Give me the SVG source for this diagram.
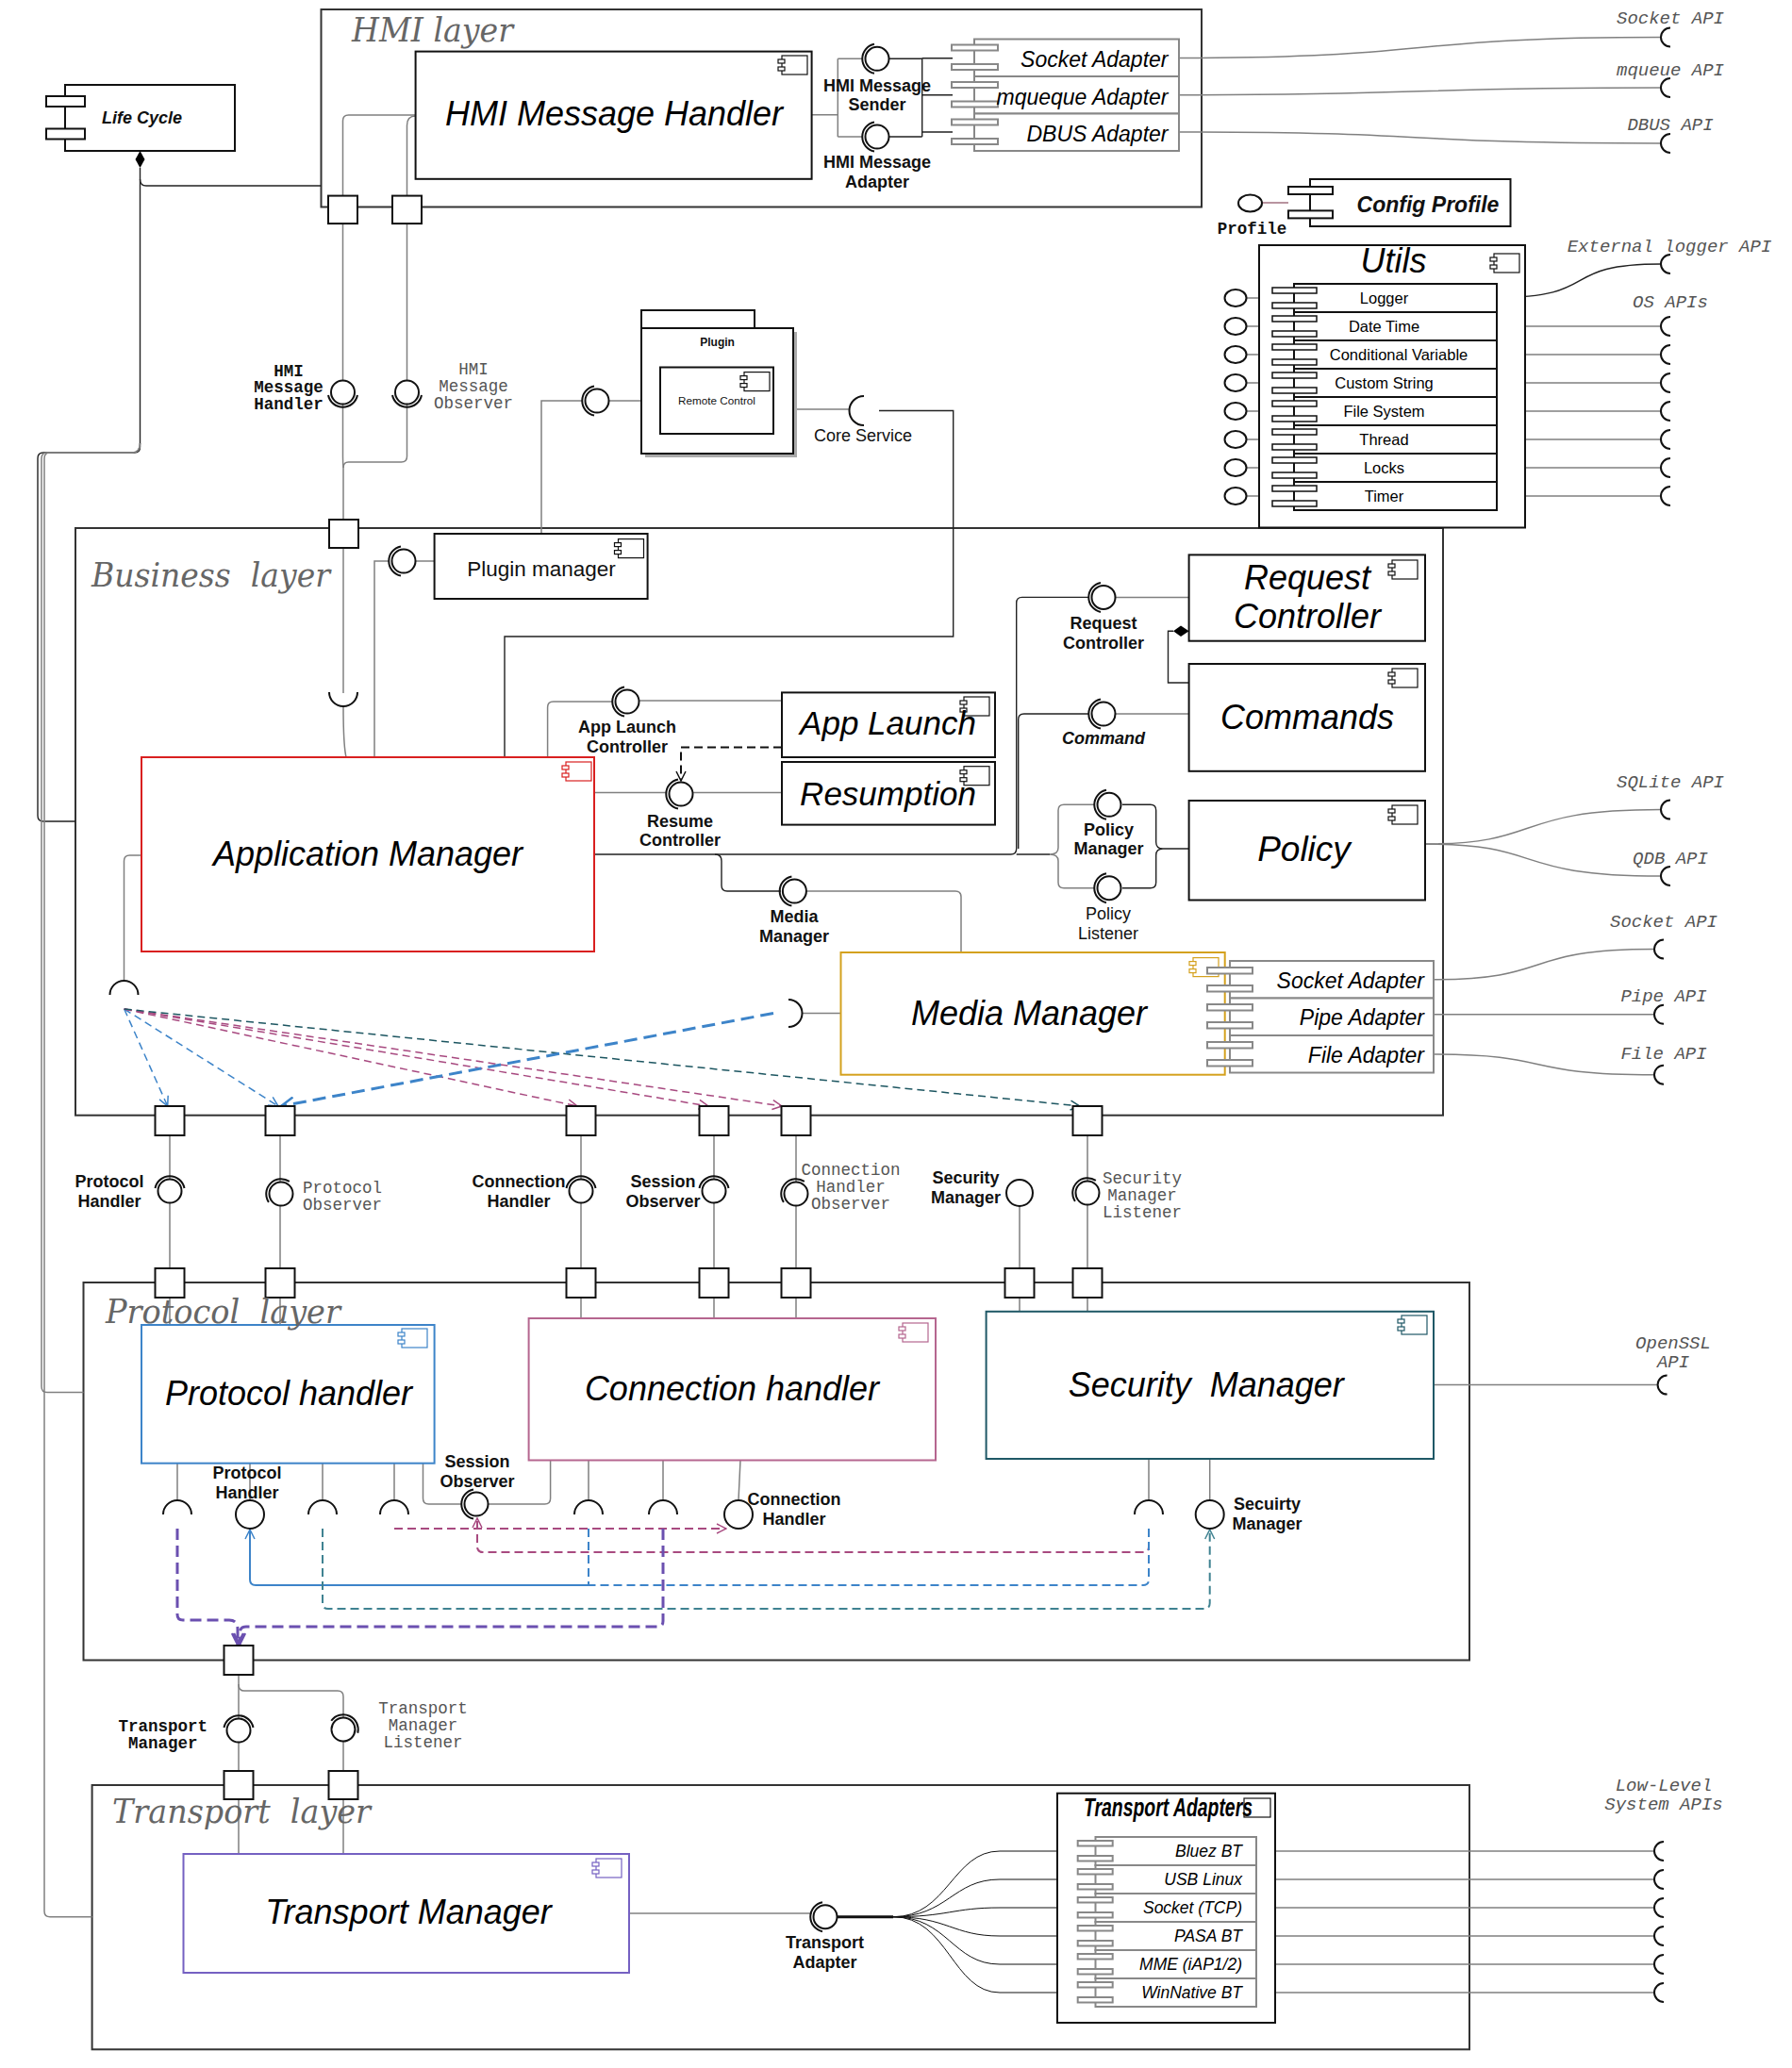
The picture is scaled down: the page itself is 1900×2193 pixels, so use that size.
<svg xmlns="http://www.w3.org/2000/svg" xmlns:xlink="http://www.w3.org/1999/xlink" width="1900" height="2193" viewBox="0 0 1900 2193">
<style>
  .box{fill:#fff;stroke:#111;stroke-width:2}
  .layer{fill:none;stroke:#333;stroke-width:2}
  .port{fill:#fff;stroke:#111;stroke-width:2}
  .tab{fill:#fff;stroke:#111;stroke-width:1.5}
  .gtab{fill:#fff;stroke:#888;stroke-width:2}
  .grow{fill:#fff;stroke:#888;stroke-width:2}
  .c{fill:none;stroke:#808080;stroke-width:1.5}
  .k{fill:none;stroke:#222;stroke-width:1.4}
  .ball{fill:#fff;stroke:#111;stroke-width:2}
  .arc{fill:none;stroke:#111;stroke-width:2}
  .sk{fill:none;stroke:#111;stroke-width:2}
  .ico{fill:#fff;stroke-width:1.2}
  .big{font-family:"Liberation Sans",Arial,sans-serif;font-style:italic;font-size:36px;text-anchor:middle;fill:#000}
  .lay{font-family:"DejaVu Serif","Liberation Serif",serif;font-style:italic;font-size:36px;fill:#666}
  .lb{font-family:"Liberation Sans",Arial,sans-serif;font-weight:bold;font-size:18px;text-anchor:middle;fill:#111}
  .lr{font-family:"Liberation Sans",Arial,sans-serif;font-size:18px;text-anchor:middle;fill:#111}
  .mb{font-family:"Liberation Mono","Courier New",monospace;font-weight:bold;font-size:17.5px;text-anchor:middle;fill:#111}
  .mg{font-family:"Liberation Mono","Courier New",monospace;font-size:17.5px;text-anchor:middle;fill:#555}
  .api{font-family:"Liberation Mono","Courier New",monospace;font-style:italic;font-size:19px;text-anchor:middle;fill:#555}
  .ad{font-family:"Liberation Sans",Arial,sans-serif;font-style:italic;font-size:23px;text-anchor:end;fill:#000}
  .ut{font-family:"Liberation Sans",Arial,sans-serif;font-size:16.5px;text-anchor:middle;fill:#000}
  .ta{font-family:"Liberation Sans",Arial,sans-serif;font-style:italic;font-size:17.5px;text-anchor:end;fill:#000}
  .dB{fill:none;stroke:#3d84c9;stroke-width:1.5;stroke-dasharray:8 5}
  .dM{fill:none;stroke:#a84a80;stroke-width:1.5;stroke-dasharray:8 5}
  .dT{fill:none;stroke:#1d5661;stroke-width:1.5;stroke-dasharray:8 5}
</style>
<defs>
  <!-- component glyph used in box corners -->
  <g id="ci">
    <rect class="ico" x="4" y="0" width="27" height="20"/>
    <rect class="ico" x="0" y="4" width="7" height="4"/>
    <rect class="ico" x="0" y="12" width="7" height="4"/>
  </g>
  <!-- provided interface with a socket arc on its left -->
  <g id="bl">
    <circle class="ball" r="12.5"/>
    <path class="arc" d="M-3,-15.5 A15.8,15.8 0 0 0 -3,15.5"/>
  </g>
  <marker id="aB" viewBox="0 0 12 12" refX="11" refY="6" markerWidth="12" markerHeight="12" markerUnits="userSpaceOnUse" orient="auto"><path d="M1,1 L11,6 L1,11" fill="none" stroke="#3d84c9" stroke-width="1.5"/></marker>
  <marker id="aBt" viewBox="0 0 16 16" refX="15" refY="8" markerWidth="16" markerHeight="16" markerUnits="userSpaceOnUse" orient="auto"><path d="M1,1 L15,8 L1,15" fill="none" stroke="#3d84c9" stroke-width="2.5"/></marker>
  <marker id="aM" viewBox="0 0 12 12" refX="11" refY="6" markerWidth="12" markerHeight="12" markerUnits="userSpaceOnUse" orient="auto"><path d="M1,1 L11,6 L1,11" fill="none" stroke="#a84a80" stroke-width="1.5"/></marker>
  <marker id="aT" viewBox="0 0 12 12" refX="11" refY="6" markerWidth="12" markerHeight="12" markerUnits="userSpaceOnUse" orient="auto"><path d="M1,1 L11,6 L1,11" fill="none" stroke="#1d5661" stroke-width="1.5"/></marker>
  <marker id="aT2" viewBox="0 0 12 12" refX="11" refY="6" markerWidth="12" markerHeight="12" markerUnits="userSpaceOnUse" orient="auto"><path d="M1,1 L11,6 L1,11" fill="none" stroke="#3f8291" stroke-width="1.5"/></marker>
  <marker id="aP" viewBox="0 0 14 14" refX="13" refY="7" markerWidth="14" markerHeight="14" markerUnits="userSpaceOnUse" orient="auto"><path d="M1,1 L13,7 L1,13" fill="none" stroke="#6b50b0" stroke-width="2.5"/></marker>
  <marker id="aK" viewBox="0 0 12 12" refX="11" refY="6" markerWidth="12" markerHeight="12" markerUnits="userSpaceOnUse" orient="auto"><path d="M1,1 L11,6 L1,11" fill="none" stroke="#111" stroke-width="1.5"/></marker>
</defs>

<rect width="1900" height="2193" fill="#fff"/>

<!-- layer frames -->
<g id="layers">
  <rect class="layer" x="340.5" y="10" width="933.5" height="209.5"/>
  <text class="lay" x="373" y="43.5" textLength="171" lengthAdjust="spacingAndGlyphs">HMI layer</text>
  <rect class="layer" x="80" y="560" width="1450" height="622.7"/>
  <text class="lay" x="97" y="622" textLength="253" lengthAdjust="spacingAndGlyphs">Business&#160; layer</text>
  <rect class="layer" x="88.5" y="1360" width="1469.5" height="400.5"/>
  <rect class="layer" x="97.6" y="1893" width="1460.4" height="280.3"/>
</g>

<!-- connectors -->
<g id="connectors">
  <!-- life cycle ownership -->
  <path class="k" d="M148.5,178 V474 Q148.5,480 142.5,480 H46 Q40,480 40,486 V865 Q40,871 46,871 H80"/>
  <path class="c" d="M148.5,470 Q148.5,480 140,480 H50 Q44,480 44,486 V1470.6 Q44,1476.6 50,1476.6 H88.5"/>
  <path class="c" d="M148.5,470 Q148.5,480 140,480 H53 Q47,480 47,486 V2026.7 Q47,2032.7 53,2032.7 H97.6"/>
  <path class="k" d="M148.5,190 Q148.5,197 155,197 H340.5"/>

  <!-- HMI handler to ports -->
  <path class="c" d="M440.6,122 H369.5 Q363.5,122 363.5,128 V207.6"/>
  <path class="c" d="M440.6,123 Q431.5,123 431.5,133 V207.6"/>
  <path class="c" d="M363.5,237 V484 Q363.5,490 364,496 V551"/>
  <path class="c" d="M431.5,237 V484 Q431.5,490 425.5,490 H369.5 Q364,490 364,496"/>
  <path class="c" d="M364,581 V735"/>
  <path class="c" d="M364,749 Q364,790 367,803"/>

  <!-- HMI sender / adapter -->
  <path class="c" d="M860.6,121.7 H888.3 M888.3,62.3 V145 M888.3,62.3 H914.5 M888.3,145 H914.5"/>
  <path class="k" d="M943,62.3 H977.7 V145 M943,145 H977.7 M977.7,61.7 H1010 M977.7,100.7 H1010 M977.7,140 H1010"/>

  <!-- external APIs of HMI adapters -->
  <path class="c" d="M1250,61.5 C1530,61.5 1480,39.5 1761,39.5"/>
  <path class="c" d="M1250,100.7 C1530,100.7 1480,93 1761,93"/>
  <path class="c" d="M1250,140 C1530,140 1480,152 1761,152"/>

  <!-- config profile -->
  <path fill="none" stroke="#a07080" stroke-width="1.5" d="M1338,215 H1366"/>

  <!-- utils -->
  <path class="c" d="M1321.5,316 H1349 M1321.5,346 H1349 M1321.5,376 H1349 M1321.5,406 H1349 M1321.5,436 H1349 M1321.5,466 H1349 M1321.5,496 H1349 M1321.5,526 H1349"/>
  <path class="k" d="M1587,315.5 C1700,315.5 1650,280 1761,280"/>
  <path class="c" d="M1587,346 H1761 M1587,376 H1761 M1587,406 H1761 M1587,436 H1761 M1587,466 H1761 M1587,496 H1761 M1587,526 H1761"/>

  <!-- plugin / core service -->
  <path class="c" d="M617,425 H574 V566"/>
  <path class="c" d="M645,425 H700"/>
  <path class="c" d="M820,434 H900.5"/>
  <path class="k" d="M932,435.5 H1010.7 V675 H535 V803"/>
  <path class="c" d="M413,595 H397 V803"/>
  <path class="c" d="M440,595 H460.6"/>

  <!-- application manager interfaces -->
  <path class="c" d="M650,744 H586.6 Q580.6,744 580.6,750 V803"/>
  <path class="c" d="M677,743 H829"/>
  <path class="c" d="M630,840.5 H707"/>
  <path class="c" d="M734,840.5 H829"/>
  <path fill="none" stroke="#111" stroke-width="2" stroke-dasharray="9 5" marker-end="url(#aK)" d="M829,792.5 H722 V828"/>
  <path class="k" d="M630,906 H1071.7 Q1077.7,906 1077.7,900 V639.4 Q1077.7,633.4 1083.7,633.4 H1155"/>
  <path class="k" d="M1079.7,900 V763 Q1079.7,757 1085.7,757 H1155"/>
  <path class="k" d="M1077.7,906 H1113"/>
  <path class="c" d="M1182.5,633.4 H1260.6 M1182.5,757 H1260.6"/>
  <path class="k" d="M1244,669.3 H1238.5 V724 H1260.6"/>
  <path class="c" d="M1160,853.3 H1128 Q1122,853.3 1122,859.3 V899 Q1122,906 1113,906 Q1122,906 1122,913 V935.7 Q1122,941.7 1128,941.7 H1160"/>
  <path class="k" d="M1190,853.3 H1219.7 Q1225.7,853.3 1225.7,859.3 V893 Q1225.7,900 1233,900 Q1225.7,900 1225.7,907 V935.7 Q1225.7,941.7 1219.7,941.7 H1190 M1233,900 H1260.6"/>
  <path class="k" d="M758,906 Q765,906 765,913 V939 Q765,945 771,945 H828"/>
  <path class="c" d="M855,945 H1013 Q1019,945 1019,951 V1010"/>
  <path class="c" d="M150,907 H137.5 Q131.5,907 131.5,913 V1040"/>
  <path class="c" d="M851,1074.5 H891.5"/>

  <!-- policy / media external APIs -->
  <path class="c" d="M1511,895 C1640,895 1600,858.6 1761,858.6"/>
  <path class="c" d="M1511,895 C1640,895 1600,929 1761,929"/>
  <path class="c" d="M1520,1038.7 C1650,1038.7 1610,1006.5 1754,1006.5"/>
  <path class="c" d="M1520,1075.8 H1754"/>
  <path class="c" d="M1520,1118 C1650,1118 1610,1139.7 1754,1139.7"/>

  <!-- fan of dependencies from application manager -->
  <path class="dB" marker-end="url(#aB)" d="M131.7,1070 L177.7,1173"/>
  <path class="dB" marker-end="url(#aB)" d="M131.7,1070 L295,1173"/>
  <path class="dM" marker-end="url(#aM)" d="M131.7,1070 L612,1173"/>
  <path class="dM" marker-end="url(#aM)" d="M131.7,1070 L751,1173"/>
  <path class="dM" marker-end="url(#aM)" d="M131.7,1070 L829,1173"/>
  <path class="dT" marker-end="url(#aT)" d="M131.7,1070 L1145,1173"/>
  <path fill="none" stroke="#3d84c9" stroke-width="3" stroke-dasharray="14 7" marker-end="url(#aBt)" d="M820,1074.5 L298,1173"/>

  <!-- business to protocol layer -->
  <path class="c" d="M180,1204 V1345 M297,1204 V1345 M616,1204 V1345 M757,1204 V1345 M844,1204 V1345 M1081,1279 V1345 M1153,1204 V1345"/>
  <path class="c" d="M180,1376 V1405 M297,1376 V1405 M616,1376 V1398 M757,1376 V1398 M844,1376 V1398 M1081,1376 V1390.8 M1153,1376 V1390.8"/>

  <!-- protocol layer internals -->
  <path class="c" d="M188,1552 V1591 M265,1552 V1591 M342,1552 V1591 M418,1552 V1591 M624,1548.5 V1591 M703,1548.5 V1591 M785,1548.5 L783,1591 M1218,1547 V1591 M1282.7,1547 V1591"/>
  <path class="c" d="M448.5,1552 V1589 Q448.5,1595 454.5,1595 H489"/>
  <path class="c" d="M518,1595 H577.6 Q583.6,1595 583.6,1589 V1548.5"/>
  <path fill="none" stroke="#a84a80" stroke-width="2" stroke-dasharray="9 5" marker-end="url(#aM)" d="M418,1621 H770"/>
  <path fill="none" stroke="#a84a80" stroke-width="2" stroke-dasharray="9 5" marker-end="url(#aM)" d="M1218,1621 V1640 Q1218,1646 1212,1646 H512 Q506,1646 506,1640 V1610"/>
  <path fill="none" stroke="#3d84c9" stroke-width="2" stroke-dasharray="9 5" d="M1218,1621 V1675 Q1218,1681 1212,1681 H622 M624,1621 V1681"/>
  <path fill="none" stroke="#3d84c9" stroke-width="2" marker-end="url(#aB)" d="M624,1681 H271 Q265,1681 265,1675 V1622"/>
  <path fill="none" stroke="#3f8291" stroke-width="2" stroke-dasharray="9 5" marker-end="url(#aT2)" d="M342,1621 V1700 Q342,1706 348,1706 H1276.7 Q1282.7,1706 1282.7,1700 V1622"/>
  <path fill="none" stroke="#6b50b0" stroke-width="3" stroke-dasharray="12 6" marker-end="url(#aP)" d="M188,1621 V1712 Q188,1718 194,1718 H243 Q252,1718 252,1728 V1744"/>
  <path fill="none" stroke="#6b50b0" stroke-width="3" stroke-dasharray="12 6" marker-end="url(#aP)" d="M703,1621 V1719 Q703,1725 697,1725 H261 Q254,1725 254,1733 V1744"/>
  <path class="c" d="M1520,1468.6 H1757.6"/>

  <!-- protocol to transport layer -->
  <path class="c" d="M253,1776 V1878"/>
  <path class="c" d="M253,1786 Q253,1793 259,1793 H358 Q364,1793 364,1799 V1878"/>
  <path class="c" d="M253,1908 V1966 M364,1908 V1966"/>
  <path class="c" d="M667,2029 H861"/>
  <path fill="none" stroke="#111" stroke-width="3" d="M888,2032.7 H947"/>
  <path fill="none" stroke="#111" stroke-width="1" d="M947,2032.7 C1005,2032.7 1010,1963 1060,1963 H1142.7 M947,2032.7 C1005,2032.7 1010,1993 1060,1993 H1142.7 M947,2032.7 C1005,2032.7 1010,2023 1060,2023 H1142.7 M947,2032.7 C1005,2032.7 1010,2053 1060,2053 H1142.7 M947,2032.7 C1005,2032.7 1010,2083 1060,2083 H1142.7 M947,2032.7 C1005,2032.7 1010,2113 1060,2113 H1142.7"/>
  <path class="c" d="M1332,1963 H1754 M1332,1993 H1754 M1332,2023 H1754 M1332,2053 H1754 M1332,2083 H1754 M1332,2113 H1754"/>
</g>

<!-- Life Cycle -->
<g id="life-cycle">
  <rect class="box" x="69" y="90" width="180" height="70"/>
  <rect class="box" x="49" y="102" width="41" height="11"/>
  <rect class="box" x="49" y="136.5" width="41" height="11"/>
  <path d="M148.5,160 L153.5,169 L148.5,178 L143.5,169 Z" fill="#000"/>
  <text class="lb" x="150.6" y="131" style="font-style:italic">Life Cycle</text>
</g>

<!-- HMI layer nodes -->
<g id="hmi-message-handler">
  <rect class="box" x="440.6" y="54.6" width="420" height="135.2"/>
  <use href="#ci" x="825" y="59" stroke="#111"/>
  <text class="big" x="651" y="133">HMI Message Handler</text>
</g>
<g id="hmi-ports">
  <rect class="port" x="348" y="207.6" width="31" height="29.5"/>
  <rect class="port" x="416" y="207.6" width="31" height="29.5"/>
</g>
<g id="hmi-sender-adapter">
  <use href="#bl" transform="translate(930,62.3)"/>
  <use href="#bl" transform="translate(930,145)"/>
  <text class="lb" x="930" y="96.5">HMI Message</text>
  <text class="lb" x="930" y="116.5">Sender</text>
  <text class="lb" x="930" y="178">HMI Message</text>
  <text class="lb" x="930" y="199">Adapter</text>
</g>
<g id="hmi-adapters">
  <rect class="grow" x="1033" y="41.5" width="217" height="39.5"/>
  <rect class="grow" x="1033" y="81" width="217" height="39.5"/>
  <rect class="grow" x="1033" y="120.5" width="217" height="39.5"/>
  <rect class="gtab" x="1009" y="47.5" width="49" height="6"/>
  <rect class="gtab" x="1009" y="68" width="49" height="6"/>
  <rect class="gtab" x="1009" y="87" width="49" height="6"/>
  <rect class="gtab" x="1009" y="107.5" width="49" height="6"/>
  <rect class="gtab" x="1009" y="126.5" width="49" height="6"/>
  <rect class="gtab" x="1009" y="147" width="49" height="6"/>
  <text class="ad" x="1238.5" y="71">Socket Adapter</text>
  <text class="ad" x="1238.5" y="110.5">mqueque Adapter</text>
  <text class="ad" x="1238.5" y="150">DBUS Adapter</text>
</g>
<g id="hmi-apis">
  <path class="sk" transform="translate(1771,39.5)" d="M0,-10 A10,10 0 0 0 0,10"/>
  <path class="sk" transform="translate(1771,93)" d="M0,-10 A10,10 0 0 0 0,10"/>
  <path class="sk" transform="translate(1771,152)" d="M0,-10 A10,10 0 0 0 0,10"/>
  <text class="api" x="1771" y="25">Socket API</text>
  <text class="api" x="1771" y="79.5">mqueue API</text>
  <text class="api" x="1771" y="137.5">DBUS API</text>
</g>

<!-- interfaces between HMI and business layers -->
<g id="hmi-interfaces">
  <use href="#bl" transform="translate(363.5,416) rotate(-90)"/>
  <use href="#bl" transform="translate(431.5,416) rotate(-90)"/>
  <text class="mb" x="306" y="398.5">HMI</text>
  <text class="mb" x="306" y="416">Message</text>
  <text class="mb" x="306" y="434">Handler</text>
  <text class="mg" x="502" y="397">HMI</text>
  <text class="mg" x="502" y="415">Message</text>
  <text class="mg" x="502" y="433">Observer</text>
</g>

<!-- Config Profile -->
<g id="config-profile">
  <rect class="box" x="1389" y="190" width="212.5" height="50"/>
  <rect class="box" x="1366" y="198" width="47" height="8"/>
  <rect class="box" x="1366" y="223.4" width="47" height="8"/>
  <ellipse class="ball" cx="1325.5" cy="215.5" rx="12.5" ry="9"/>
  <text class="lb" x="1514" y="225" style="font-size:23px;font-style:italic">Config Profile</text>
  <text class="mb" x="1327.5" y="248">Profile</text>
</g>

<!-- Utils -->
<g id="utils">
  <rect class="box" x="1335" y="260" width="282" height="299.5"/>
  <use href="#ci" x="1580" y="269" stroke="#111"/>
  <text class="big" x="1477.6" y="289">Utils</text>
  <rect class="box" x="1372" y="301" width="215" height="30"/>
  <rect class="box" x="1372" y="331" width="215" height="30"/>
  <rect class="box" x="1372" y="361" width="215" height="30"/>
  <rect class="box" x="1372" y="391" width="215" height="30"/>
  <rect class="box" x="1372" y="421" width="215" height="30"/>
  <rect class="box" x="1372" y="451" width="215" height="30"/>
  <rect class="box" x="1372" y="481" width="215" height="30"/>
  <rect class="box" x="1372" y="511" width="215" height="30"/>
  <rect class="tab" x="1349" y="305" width="47" height="6"/><rect class="tab" x="1349" y="321" width="47" height="6"/>
  <rect class="tab" x="1349" y="335" width="47" height="6"/><rect class="tab" x="1349" y="351" width="47" height="6"/>
  <rect class="tab" x="1349" y="365" width="47" height="6"/><rect class="tab" x="1349" y="381" width="47" height="6"/>
  <rect class="tab" x="1349" y="395" width="47" height="6"/><rect class="tab" x="1349" y="411" width="47" height="6"/>
  <rect class="tab" x="1349" y="425" width="47" height="6"/><rect class="tab" x="1349" y="441" width="47" height="6"/>
  <rect class="tab" x="1349" y="455" width="47" height="6"/><rect class="tab" x="1349" y="471" width="47" height="6"/>
  <rect class="tab" x="1349" y="485" width="47" height="6"/><rect class="tab" x="1349" y="501" width="47" height="6"/>
  <rect class="tab" x="1349" y="515" width="47" height="6"/><rect class="tab" x="1349" y="531" width="47" height="6"/>
  <ellipse class="ball" cx="1310" cy="316" rx="11.5" ry="9"/>
  <ellipse class="ball" cx="1310" cy="346" rx="11.5" ry="9"/>
  <ellipse class="ball" cx="1310" cy="376" rx="11.5" ry="9"/>
  <ellipse class="ball" cx="1310" cy="406" rx="11.5" ry="9"/>
  <ellipse class="ball" cx="1310" cy="436" rx="11.5" ry="9"/>
  <ellipse class="ball" cx="1310" cy="466" rx="11.5" ry="9"/>
  <ellipse class="ball" cx="1310" cy="496" rx="11.5" ry="9"/>
  <ellipse class="ball" cx="1310" cy="526" rx="11.5" ry="9"/>
  <text class="ut" x="1467.5" y="322">Logger</text>
  <text class="ut" x="1467.5" y="352">Date Time</text>
  <text class="ut" x="1483" y="382">Conditional Variable</text>
  <text class="ut" x="1467.5" y="412">Custom String</text>
  <text class="ut" x="1467.5" y="442">File System</text>
  <text class="ut" x="1467.5" y="472">Thread</text>
  <text class="ut" x="1467.5" y="502">Locks</text>
  <text class="ut" x="1467.5" y="532">Timer</text>
</g>
<g id="utils-apis">
  <path class="sk" transform="translate(1771,280)" d="M0,-10 A10,10 0 0 0 0,10"/>
  <path class="sk" transform="translate(1771,346)" d="M0,-10 A10,10 0 0 0 0,10"/>
  <path class="sk" transform="translate(1771,376)" d="M0,-10 A10,10 0 0 0 0,10"/>
  <path class="sk" transform="translate(1771,406)" d="M0,-10 A10,10 0 0 0 0,10"/>
  <path class="sk" transform="translate(1771,436)" d="M0,-10 A10,10 0 0 0 0,10"/>
  <path class="sk" transform="translate(1771,466)" d="M0,-10 A10,10 0 0 0 0,10"/>
  <path class="sk" transform="translate(1771,496)" d="M0,-10 A10,10 0 0 0 0,10"/>
  <path class="sk" transform="translate(1771,526)" d="M0,-10 A10,10 0 0 0 0,10"/>
  <text class="api" x="1770" y="267">External logger API</text>
  <text class="api" x="1771" y="326">OS APIs</text>
</g>

<!-- Plugin package -->
<g id="plugin">
  <rect x="684" y="352" width="161" height="133" fill="#aaa"/>
  <rect class="box" x="680" y="329" width="120" height="19"/>
  <rect class="box" x="680" y="348" width="161" height="133"/>
  <text class="lb" x="760.6" y="366.6" style="font-size:12px">Plugin</text>
  <rect class="box" x="700" y="389.5" width="120" height="70.5"/>
  <use href="#ci" x="785" y="394.6" stroke="#111"/>
  <text class="lr" x="760" y="429" style="font-size:11.7px">Remote Control</text>
  <use href="#bl" transform="translate(633,425)"/>
  <path class="sk" transform="translate(916,435.5)" d="M0,-15.5 A15.5,15.5 0 0 0 0,15.5"/>
  <text class="lr" x="915" y="468">Core Service</text>
</g>

<!-- Business layer nodes -->
<g id="business-port">
  <rect class="port" x="349" y="551" width="31" height="30"/>
  <path class="sk" transform="translate(364,734)" d="M-15,0 A15,15 0 0 0 15,0"/>
</g>
<g id="plugin-manager">
  <rect class="box" x="460.6" y="566" width="226" height="69"/>
  <use href="#ci" x="651.5" y="571.6" stroke="#111"/>
  <text class="lr" x="574" y="611" style="font-size:22.5px">Plugin manager</text>
  <use href="#bl" transform="translate(428,595)"/>
</g>
<g id="application-manager">
  <rect class="box" x="150" y="803" width="480" height="206" style="stroke:#d92020"/>
  <use href="#ci" x="596" y="808" stroke="#d92020"/>
  <text class="big" x="390" y="918">Application Manager</text>
  <path class="sk" transform="translate(131.5,1055)" d="M-15,0 A15,15 0 0 1 15,0"/>
</g>
<g id="app-launch">
  <rect class="box" x="829" y="734.4" width="226" height="68.6"/>
  <use href="#ci" x="1018" y="739" stroke="#111"/>
  <text class="big" x="941.5" y="779" style="font-size:35px">App Launch</text>
  <use href="#bl" transform="translate(665,744)"/>
  <text class="lb" x="665" y="777">App Launch</text>
  <text class="lb" x="665" y="797.7">Controller</text>
</g>
<g id="resumption">
  <rect class="box" x="829" y="808" width="226" height="66.6"/>
  <use href="#ci" x="1018" y="812.7" stroke="#111"/>
  <text class="big" x="941.5" y="853.5" style="font-size:35px">Resumption</text>
  <use href="#bl" transform="translate(722,842)"/>
  <text class="lb" x="721" y="877">Resume</text>
  <text class="lb" x="721" y="897">Controller</text>
</g>
<g id="request-controller">
  <rect class="box" x="1260.6" y="588.4" width="250.4" height="91.3"/>
  <use href="#ci" x="1472" y="594" stroke="#111"/>
  <text class="big" x="1386" y="625">Request</text>
  <text class="big" x="1386" y="666">Controller</text>
  <path d="M1260.6,669.3 L1252,663.5 L1244,669.3 L1252,675 Z" fill="#000"/>
  <use href="#bl" transform="translate(1170,633.4)"/>
  <text class="lb" x="1170" y="667">Request</text>
  <text class="lb" x="1170" y="688">Controller</text>
</g>
<g id="commands">
  <rect class="box" x="1260.6" y="704" width="250.4" height="113.8"/>
  <use href="#ci" x="1472" y="709" stroke="#111"/>
  <text class="big" x="1386" y="772.7">Commands</text>
  <use href="#bl" transform="translate(1170,757)"/>
  <text class="lb" x="1170" y="789" style="font-style:italic">Command</text>
</g>
<g id="policy">
  <rect class="box" x="1260.6" y="849" width="250.4" height="105.5"/>
  <use href="#ci" x="1472" y="854" stroke="#111"/>
  <text class="big" x="1382.5" y="912.5" style="font-size:37px">Policy</text>
  <use href="#bl" transform="translate(1176,853.3)"/>
  <use href="#bl" transform="translate(1176,941.7)"/>
  <text class="lb" x="1175.5" y="886">Policy</text>
  <text class="lb" x="1175.5" y="906">Manager</text>
  <text class="lr" x="1175" y="974.5">Policy</text>
  <text class="lr" x="1175" y="996">Listener</text>
</g>
<g id="policy-apis">
  <path class="sk" transform="translate(1771,858.6)" d="M0,-10 A10,10 0 0 0 0,10"/>
  <path class="sk" transform="translate(1771,929)" d="M0,-10 A10,10 0 0 0 0,10"/>
  <text class="api" x="1771" y="835">SQLite API</text>
  <text class="api" x="1771" y="915.5">QDB API</text>
</g>
<g id="media-manager">
  <rect class="box" x="891.5" y="1010" width="407.2" height="129.7" style="stroke:#d4a11e"/>
  <use href="#ci" x="1261" y="1015.6" stroke="#d4a11e"/>
  <text class="big" x="1091" y="1087">Media Manager</text>
  <use href="#bl" transform="translate(842.4,945)"/>
  <text class="lb" x="842" y="978">Media</text>
  <text class="lb" x="842" y="999">Manager</text>
  <path class="sk" transform="translate(836,1074.5)" d="M0,-14.5 A14.5,14.5 0 0 1 0,14.5"/>
</g>
<g id="media-adapters">
  <rect class="grow" x="1304" y="1019" width="216" height="39.5"/>
  <rect class="grow" x="1304" y="1058.5" width="216" height="39.5"/>
  <rect class="grow" x="1304" y="1098" width="216" height="39.5"/>
  <rect class="gtab" x="1280" y="1026" width="48" height="6.5"/>
  <rect class="gtab" x="1280" y="1045" width="48" height="6.5"/>
  <rect class="gtab" x="1280" y="1065" width="48" height="6.5"/>
  <rect class="gtab" x="1280" y="1084" width="48" height="6.5"/>
  <rect class="gtab" x="1280" y="1105" width="48" height="6.5"/>
  <rect class="gtab" x="1280" y="1124" width="48" height="6.5"/>
  <text class="ad" x="1510" y="1048">Socket Adapter</text>
  <text class="ad" x="1510" y="1087">Pipe Adapter</text>
  <text class="ad" x="1510" y="1127">File Adapter</text>
</g>
<g id="media-apis">
  <path class="sk" transform="translate(1764,1006.5)" d="M0,-10 A10,10 0 0 0 0,10"/>
  <path class="sk" transform="translate(1764,1075.8)" d="M0,-10 A10,10 0 0 0 0,10"/>
  <path class="sk" transform="translate(1764,1139.7)" d="M0,-10 A10,10 0 0 0 0,10"/>
  <text class="api" x="1764" y="983">Socket API</text>
  <text class="api" x="1764" y="1061.6">Pipe API</text>
  <text class="api" x="1764" y="1122.6">File API</text>
</g>

<!-- ports and interfaces between business and protocol layers -->
<g id="business-ports">
  <rect class="port" x="164.5" y="1173" width="31" height="31"/>
  <rect class="port" x="281.5" y="1173" width="31" height="31"/>
  <rect class="port" x="600.5" y="1173" width="31" height="31"/>
  <rect class="port" x="741.5" y="1173" width="31" height="31"/>
  <rect class="port" x="828.5" y="1173" width="31" height="31"/>
  <rect class="port" x="1137.5" y="1173" width="31" height="31"/>
</g>
<g id="protocol-interfaces">
  <use href="#bl" transform="translate(180,1263) rotate(90)"/>
  <use href="#bl" transform="translate(298,1266) rotate(45)"/>
  <use href="#bl" transform="translate(616,1263) rotate(90)"/>
  <use href="#bl" transform="translate(757,1263) rotate(90)"/>
  <use href="#bl" transform="translate(844,1266) rotate(45)"/>
  <circle class="ball" cx="1081" cy="1265" r="14"/>
  <use href="#bl" transform="translate(1153,1265) rotate(45)"/>
  <text class="lb" x="116" y="1259">Protocol</text>
  <text class="lb" x="116" y="1280">Handler</text>
  <text class="mg" x="321" y="1265" style="text-anchor:start">Protocol</text>
  <text class="mg" x="321" y="1283" style="text-anchor:start">Observer</text>
  <text class="lb" x="550" y="1259">Connection</text>
  <text class="lb" x="550" y="1280">Handler</text>
  <text class="lb" x="703" y="1259">Session</text>
  <text class="lb" x="703" y="1280">Observer</text>
  <text class="mg" x="902" y="1246">Connection</text>
  <text class="mg" x="902" y="1264">Handler</text>
  <text class="mg" x="902" y="1282">Observer</text>
  <text class="lb" x="1024" y="1255">Security</text>
  <text class="lb" x="1024" y="1276">Manager</text>
  <text class="mg" x="1211" y="1255">Security</text>
  <text class="mg" x="1211" y="1273">Manager</text>
  <text class="mg" x="1211" y="1291">Listener</text>
</g>
<g id="protocol-ports">
  <rect class="port" x="164.5" y="1345" width="31" height="31"/>
  <rect class="port" x="281.5" y="1345" width="31" height="31"/>
  <rect class="port" x="600.5" y="1345" width="31" height="31"/>
  <rect class="port" x="741.5" y="1345" width="31" height="31"/>
  <rect class="port" x="828.5" y="1345" width="31" height="31"/>
  <rect class="port" x="1065.5" y="1345" width="31" height="31"/>
  <rect class="port" x="1137.5" y="1345" width="31" height="31"/>
</g>

<!-- Protocol layer nodes -->
<g id="protocol-handler">
  <rect class="box" x="150" y="1405" width="310.6" height="146.7" style="stroke:#3d84c9"/>
  <use href="#ci" x="422" y="1409" stroke="#3d84c9"/>
  <text class="big" x="306" y="1490">Protocol handler</text>
</g>
<g id="connection-handler">
  <rect class="box" x="560.6" y="1398" width="431.4" height="150.5" style="stroke:#b5668f"/>
  <use href="#ci" x="953" y="1403" stroke="#b5668f"/>
  <text class="big" x="776" y="1484.5">Connection handler</text>
</g>
<g id="security-manager">
  <rect class="box" x="1045.6" y="1390.8" width="474.4" height="156.2" style="stroke:#1f5866"/>
  <use href="#ci" x="1482" y="1395" stroke="#1f5866"/>
  <text class="big" x="1278.7" y="1480.5">Security&#160; Manager</text>
  <path class="sk" transform="translate(1767.6,1468.6)" d="M0,-10 A10,10 0 0 0 0,10"/>
  <text class="api" x="1774" y="1430">OpenSSL</text>
  <text class="api" x="1774" y="1450">API</text>
</g>
<g id="protocol-internal-interfaces">
  <path class="sk" transform="translate(188,1606)" d="M-15,0 A15,15 0 0 1 15,0"/>
  <circle class="ball" cx="265" cy="1606" r="15"/>
  <path class="sk" transform="translate(342,1606)" d="M-15,0 A15,15 0 0 1 15,0"/>
  <path class="sk" transform="translate(418,1606)" d="M-15,0 A15,15 0 0 1 15,0"/>
  <use href="#bl" transform="translate(505,1595)"/>
  <path class="sk" transform="translate(624,1606)" d="M-15,0 A15,15 0 0 1 15,0"/>
  <path class="sk" transform="translate(703,1606)" d="M-15,0 A15,15 0 0 1 15,0"/>
  <circle class="ball" cx="783" cy="1606" r="15"/>
  <path class="sk" transform="translate(1218,1606)" d="M-15,0 A15,15 0 0 1 15,0"/>
  <circle class="ball" cx="1282.7" cy="1606" r="15"/>
  <text class="lb" x="262" y="1568">Protocol</text>
  <text class="lb" x="262" y="1588.5">Handler</text>
  <text class="lb" x="506" y="1556">Session</text>
  <text class="lb" x="506" y="1577">Observer</text>
  <text class="lb" x="842" y="1596">Connection</text>
  <text class="lb" x="842" y="1617">Handler</text>
  <text class="lb" x="1343.6" y="1601">Secuirty</text>
  <text class="lb" x="1343.6" y="1622">Manager</text>
</g>
<g id="protocol-label">
  <text class="lay" x="112" y="1403.4" textLength="249" lengthAdjust="spacingAndGlyphs">Protocol&#160; layer</text>
</g>

<!-- Transport layer nodes -->
<g id="transport-ports">
  <rect class="port" x="237.5" y="1745" width="31" height="31"/>
  <rect class="port" x="237.5" y="1878" width="31" height="30"/>
  <rect class="port" x="348.5" y="1878" width="31" height="30"/>
</g>
<g id="transport-interfaces">
  <use href="#bl" transform="translate(253,1835) rotate(90)"/>
  <use href="#bl" transform="translate(364,1834) rotate(115)"/>
  <text class="mb" x="172.7" y="1836">Transport</text>
  <text class="mb" x="172.7" y="1854">Manager</text>
  <text class="mg" x="448.5" y="1817">Transport</text>
  <text class="mg" x="448.5" y="1835">Manager</text>
  <text class="mg" x="448.5" y="1853">Listener</text>
</g>
<g id="transport-label">
  <text class="lay" x="119" y="1933" textLength="274" lengthAdjust="spacingAndGlyphs">Transport&#160; layer</text>
</g>
<g id="transport-manager">
  <rect class="box" x="194.5" y="1966" width="472.5" height="126" style="stroke:#7561c2"/>
  <use href="#ci" x="628" y="1971" stroke="#7561c2"/>
  <text class="big" x="433" y="2040">Transport Manager</text>
  <use href="#bl" transform="translate(875,2032.7)"/>
  <text class="lb" x="874.5" y="2066">Transport</text>
  <text class="lb" x="874.5" y="2087">Adapter</text>
</g>
<g id="transport-adapters">
  <rect class="box" x="1121" y="1901.7" width="231" height="243.3"/>
  <rect class="ico" x="1319" y="1907" width="28" height="20" stroke="#111"/>
  <text x="1238.5" y="1926" font-family="Liberation Sans, Arial, sans-serif" font-weight="bold" font-style="italic" font-size="27" text-anchor="middle" textLength="179" lengthAdjust="spacingAndGlyphs">Transport Adapters</text>
  <rect class="grow" x="1161.5" y="1948" width="170.5" height="30"/>
  <rect class="grow" x="1161.5" y="1978" width="170.5" height="30"/>
  <rect class="grow" x="1161.5" y="2008" width="170.5" height="30"/>
  <rect class="grow" x="1161.5" y="2038" width="170.5" height="30"/>
  <rect class="grow" x="1161.5" y="2068" width="170.5" height="30"/>
  <rect class="grow" x="1161.5" y="2098" width="170.5" height="30"/>
  <rect class="gtab" x="1142.7" y="1952" width="37" height="5.5"/><rect class="gtab" x="1142.7" y="1968" width="37" height="5.5"/>
  <rect class="gtab" x="1142.7" y="1982" width="37" height="5.5"/><rect class="gtab" x="1142.7" y="1998" width="37" height="5.5"/>
  <rect class="gtab" x="1142.7" y="2012" width="37" height="5.5"/><rect class="gtab" x="1142.7" y="2028" width="37" height="5.5"/>
  <rect class="gtab" x="1142.7" y="2042" width="37" height="5.5"/><rect class="gtab" x="1142.7" y="2058" width="37" height="5.5"/>
  <rect class="gtab" x="1142.7" y="2072" width="37" height="5.5"/><rect class="gtab" x="1142.7" y="2088" width="37" height="5.5"/>
  <rect class="gtab" x="1142.7" y="2102" width="37" height="5.5"/><rect class="gtab" x="1142.7" y="2118" width="37" height="5.5"/>
  <text class="ta" x="1317" y="1969">Bluez BT</text>
  <text class="ta" x="1317" y="1999">USB Linux</text>
  <text class="ta" x="1317" y="2029">Socket (TCP)</text>
  <text class="ta" x="1317" y="2059">PASA BT</text>
  <text class="ta" x="1317" y="2089">MME (iAP1/2)</text>
  <text class="ta" x="1317" y="2119">WinNative BT</text>
</g>
<g id="low-level-apis">
  <path class="sk" transform="translate(1764,1963)" d="M0,-10 A10,10 0 0 0 0,10"/>
  <path class="sk" transform="translate(1764,1993)" d="M0,-10 A10,10 0 0 0 0,10"/>
  <path class="sk" transform="translate(1764,2023)" d="M0,-10 A10,10 0 0 0 0,10"/>
  <path class="sk" transform="translate(1764,2053)" d="M0,-10 A10,10 0 0 0 0,10"/>
  <path class="sk" transform="translate(1764,2083)" d="M0,-10 A10,10 0 0 0 0,10"/>
  <path class="sk" transform="translate(1764,2113)" d="M0,-10 A10,10 0 0 0 0,10"/>
  <text class="api" x="1764" y="1899">Low-Level</text>
  <text class="api" x="1764" y="1918.7">System APIs</text>
</g>
</svg>
